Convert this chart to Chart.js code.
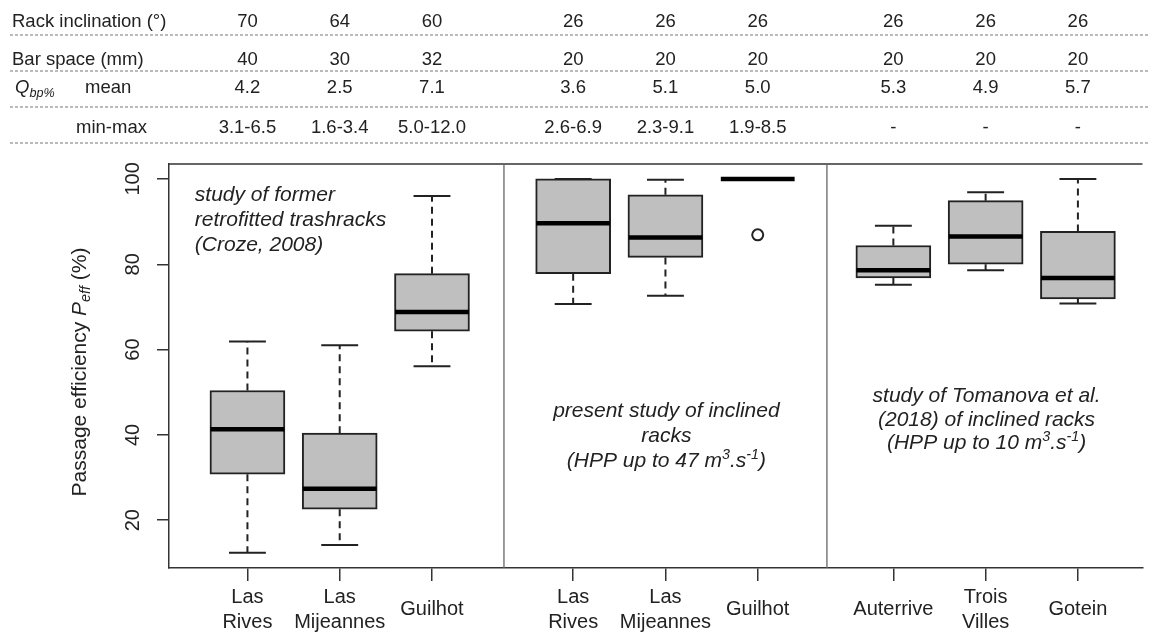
<!DOCTYPE html>
<html>
<head>
<meta charset="utf-8">
<script src="https://cdn.jsdelivr.net/npm/chart.js@4"></script>
<style>
  html, body { margin: 0; padding: 0; background: #fff; }
  #wrap { width: 1150px; height: 637px; }
</style>
</head>
<body>
<div id="wrap"><canvas id="chart" width="1150" height="637"></canvas></div>
<script>
// sites, grouped in three studies
const sites = [['Las', 'Rives'], ['Las', 'Mijeannes'], 'Guilhot',
               ['Las', 'Rives'], ['Las', 'Mijeannes'], 'Guilhot',
               'Auterrive', ['Trois', 'Villes'], 'Gotein'];
const sitePos = [1, 2, 3, 4.53, 5.53, 6.53, 8, 9, 10];
const groupBreaks = [3.78, 7.28];

// box plot stats, passage efficiency (%)
const whiskerLow  = [12.4, 14.2, 56.1, 70.7, 72.6, 100, 75.2, 78.6, 70.8];
const boxLow      = [30.8, 22.6, 64.3, 77.8, 81.6, 100, 76.8, 80.0, 71.9];
const medians     = [41.3, 27.4, 68.8, 89.6, 86.3, 100, 78.6, 86.5, 76.8];
const boxHigh     = [50.4, 40.4, 77.8, 100, 96.3, 100, 84.4, 94.9, 87.7];
const whiskerHigh = [61.9, 61.0, 96.0, 100, 99.8, 100, 89.0, 96.9, 100];
const outlierSite = [5];
const outlierValue = [86.9];

const yTicks = [20, 40, 60, 80, 100];

// table above the plot
const rackInclination = ['70', '64', '60', '26', '26', '26', '26', '26', '26'];
const barSpace = ['40', '30', '32', '20', '20', '20', '20', '20', '20'];
const qMean = ['4.2', '2.5', '7.1', '3.6', '5.1', '5.0', '5.3', '4.9', '5.7'];
const qMinMax = ['3.1-6.5', '1.6-3.4', '5.0-12.0', '2.6-6.9', '2.3-9.1', '1.9-8.5', '-', '-', '-'];

const noteFormer = ['study of former', 'retrofitted trashracks', '(Croze, 2008)'];
const notePresent = ['present study of inclined', 'racks', '(HPP up to 47 m^{3}.s^{-1})'];
const noteTomanova = ['study of Tomanova et al.', '(2018) of inclined racks', '(HPP up to 10 m^{3}.s^{-1})'];

const FONT = '"Liberation Sans", Arial, Helvetica, sans-serif';
const INK = '#222';
const HALF_BOX = 0.4;
const HALF_CAP = 0.2;

function segs(list) {
  const out = [];
  list.forEach(([x1, y1, x2, y2]) => {
    out.push({x: x1, y: y1}, {x: x2, y: y2}, {x: x2, y: null});
  });
  return out;
}

const boxData = sitePos.map((x, i) => ({x: x, y: [boxLow[i], boxHigh[i]]}));
const medianSegs = segs(sitePos.map((x, i) => [x - HALF_BOX, medians[i], x + HALF_BOX, medians[i]]));
const whiskerSegs = segs(sitePos.flatMap((x, i) => [
  [x, boxHigh[i], x, whiskerHigh[i]],
  [x, boxLow[i], x, whiskerLow[i]]
]));
const capSegs = segs(sitePos.flatMap((x, i) => [
  [x - HALF_CAP, whiskerHigh[i], x + HALF_CAP, whiskerHigh[i]],
  [x - HALF_CAP, whiskerLow[i], x + HALF_CAP, whiskerLow[i]]
]));
const outlierData = outlierSite.map((s, i) => ({x: sitePos[s], y: outlierValue[i]}));

// '^{..}' superscript, '_{..}' subscript
function parseRich(str, italic) {
  const parts = [];
  const re = /(\^|_)\{([^}]*)\}/g;
  let last = 0, m;
  while ((m = re.exec(str))) {
    if (m.index > last) parts.push({t: str.slice(last, m.index), it: italic});
    parts.push({t: m[2], it: italic, sup: m[1] === '^', sub: m[1] === '_'});
    last = re.lastIndex;
  }
  if (last < str.length) parts.push({t: str.slice(last), it: italic});
  return parts;
}

function richText(ctx, parts, x, y, size, align) {
  const fontFor = p => (p.it ? 'italic ' : '') + ((p.sup || p.sub) ? size * 0.68 : size) + 'px ' + FONT;
  let w = 0;
  parts.forEach(p => { ctx.font = fontFor(p); w += ctx.measureText(p.t).width; });
  let cx = align === 'center' ? x - w / 2 : x;
  ctx.textAlign = 'left';
  ctx.textBaseline = 'middle';
  parts.forEach(p => {
    ctx.font = fontFor(p);
    const dy = p.sup ? -size * 0.32 : (p.sub ? size * 0.28 : 0);
    ctx.fillText(p.t, cx, y + dy);
    cx += ctx.measureText(p.t).width;
  });
}

const decorations = {
  id: 'decorations',
  afterDraw(chart) {
    const ctx = chart.ctx;
    const xs = chart.scales.x, ys = chart.scales.y;
    const area = chart.chartArea;
    ctx.save();

    // top frame and group separators
    ctx.strokeStyle = '#333';
    ctx.lineWidth = 1.5;
    ctx.beginPath();
    ctx.moveTo(area.left, area.top);
    ctx.lineTo(area.right, area.top);
    ctx.stroke();
    ctx.strokeStyle = '#666';
    ctx.lineWidth = 1.3;
    groupBreaks.forEach(b => {
      const px = xs.getPixelForValue(b);
      ctx.beginPath();
      ctx.moveTo(px, area.top);
      ctx.lineTo(px, area.bottom);
      ctx.stroke();
    });

    // table header
    ctx.fillStyle = INK;
    ctx.strokeStyle = '#777';
    ctx.lineWidth = 1.2;
    ctx.setLineDash([3, 2]);
    [35, 71, 107, 143].forEach(y => {
      ctx.beginPath();
      ctx.moveTo(10, y);
      ctx.lineTo(chart.width, y);
      ctx.stroke();
    });
    ctx.setLineDash([]);
    const rows = [[rackInclination, 22], [barSpace, 60], [qMean, 88], [qMinMax, 128]];
    ctx.font = '18.5px ' + FONT;
    ctx.textAlign = 'center';
    ctx.textBaseline = 'middle';
    rows.forEach(([vals, y]) => {
      vals.forEach((v, i) => ctx.fillText(v, xs.getPixelForValue(sitePos[i]), y));
    });
    ctx.textAlign = 'left';
    ctx.fillText('Rack inclination (°)', 12, 22);
    ctx.fillText('Bar space (mm)', 12, 60);
    ctx.fillText('mean', 85, 88);
    ctx.fillText('min-max', 76, 128);
    richText(ctx, parseRich('Q_{bp%}', true), 15, 88, 18.5, 'left');

    // y tick labels and title, rotated
    ctx.font = '20px ' + FONT;
    yTicks.forEach(v => {
      ctx.save();
      ctx.translate(133, ys.getPixelForValue(v));
      ctx.rotate(-Math.PI / 2);
      ctx.textAlign = 'center';
      ctx.textBaseline = 'middle';
      ctx.fillText(String(v), 0, 0);
      ctx.restore();
    });
    ctx.save();
    ctx.translate(80, (area.top + area.bottom) / 2 + 6);
    ctx.rotate(-Math.PI / 2);
    richText(ctx, [{t: 'Passage efficiency '}, {t: 'P', it: true}, {t: 'eff', it: true, sub: true}, {t: ' (%)'}], 0, 0, 21, 'center');
    ctx.restore();

    // study annotations
    const note = (lines, xv, yv, gap, align) => {
      const px = xs.getPixelForValue(xv), py = ys.getPixelForValue(yv);
      lines.forEach((l, i) => richText(ctx, parseRich(l, true), px, py + i * gap, 21, align));
    };
    note(noteFormer, 0.43, 96.3, 25, 'left');
    note(notePresent, 5.54, 45.5, 25, 'center');
    note(noteTomanova, 9.01, 49.0, 23.5, 'center');

    ctx.restore();
  }
};

new Chart(document.getElementById('chart'), {
  type: 'bar',
  data: {
    datasets: [
      {
        type: 'line', data: medianSegs, borderColor: '#000', borderWidth: 4.5,
        pointRadius: 0, spanGaps: false, order: 0
      },
      {
        type: 'scatter', data: outlierData, pointRadius: 5.5, pointBorderWidth: 2,
        pointBorderColor: INK, pointBackgroundColor: 'rgba(0,0,0,0)', order: 0
      },
      {
        type: 'line', data: whiskerSegs, borderColor: INK, borderWidth: 2,
        borderDash: [7, 5], pointRadius: 0, spanGaps: false, order: 1
      },
      {
        type: 'line', data: capSegs, borderColor: INK, borderWidth: 2,
        pointRadius: 0, spanGaps: false, order: 1
      },
      {
        type: 'bar', data: boxData, backgroundColor: '#bfbfbf', borderColor: INK,
        borderWidth: 2, borderSkipped: false, barThickness: 75, order: 3
      }
    ]
  },
  options: {
    responsive: false,
    animation: false,
    events: [],
    layout: { padding: { top: 164, left: 157, right: 0, bottom: 0 } },
    plugins: { legend: { display: false }, tooltip: { enabled: false } },
    scales: {
      x: {
        type: 'linear', min: 0.15, max: 10.7, offset: false,
        afterBuildTicks: s => { s.ticks = sitePos.map(v => ({value: v})); },
        afterFit: s => { s.height = 69; },
        ticks: {
          autoSkip: false, maxRotation: 0, minRotation: 0, padding: 16, crossAlign: 'center',
          color: INK, font: { family: FONT, size: 20, lineHeight: 1.25 },
          callback: (v, i) => sites[i]
        },
        grid: { drawOnChartArea: false, tickLength: 13, color: '#333', lineWidth: 1.5, offset: false },
        border: { color: '#333', width: 1.5 }
      },
      y: {
        type: 'linear', min: 8.8, max: 103.5,
        afterBuildTicks: s => { s.ticks = yTicks.map(v => ({value: v})); },
        afterFit: s => { s.width = 12; },
        ticks: { display: false },
        grid: { drawOnChartArea: false, tickLength: 12, color: '#333', lineWidth: 1.5 },
        border: { color: '#333', width: 1.5 }
      }
    }
  },
  plugins: [decorations]
});
</script>
</body>
</html>
